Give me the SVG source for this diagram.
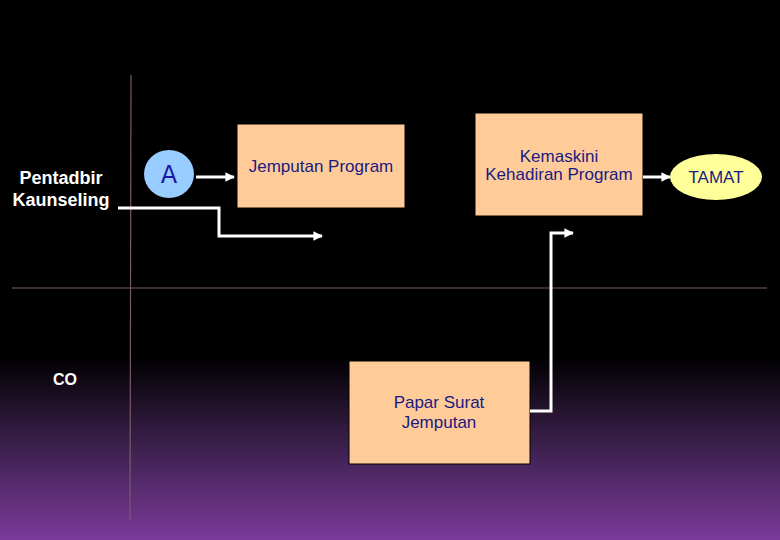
<svg xmlns="http://www.w3.org/2000/svg" width="780" height="540" viewBox="0 0 780 540">
<defs>
<linearGradient id="bg" x1="0" y1="0" x2="0" y2="1">
<stop offset="0" stop-color="#000000"/>
<stop offset="0.66" stop-color="#000000"/>
<stop offset="0.82" stop-color="#3a1f4a"/>
<stop offset="1" stop-color="#7a3a9a"/>
</linearGradient>
<marker id="arr" viewBox="0 0 10 10" refX="9" refY="5" markerWidth="3.2" markerHeight="3.2" orient="auto" markerUnits="strokeWidth">
<path d="M0,0 L10,5 L0,10 z" fill="#ffffff"/>
</marker>
<style>
.box{fill:#ffcc99;stroke:#000000;stroke-width:1}
.t{font-family:"Liberation Sans",Arial,sans-serif;font-size:17px;fill:#1a1a80;text-anchor:middle}
.w{font-family:"Liberation Sans",Arial,sans-serif;font-size:18px;font-weight:bold;fill:#ffffff;text-anchor:middle}
.lane{stroke:#7a5a6a;stroke-width:1.2;fill:none}
.c{stroke:#ffffff;stroke-width:3;fill:none}
</style>
</defs>
<rect width="780" height="540" fill="url(#bg)"/>
<g id="lanes">
<line class="lane" x1="131" y1="75" x2="130" y2="520"/>
<line class="lane" x1="12" y1="288" x2="767" y2="288"/>
</g>
<g id="lane-pentadbir"><text class="w" x="61" y="184">Pentadbir</text><text class="w" x="61" y="206">Kaunseling</text></g>
<g id="lane-co"><text class="w" x="65" y="385" style="font-size:16px">CO</text></g>
<g id="node-a">
<ellipse cx="169" cy="174" rx="25" ry="24" fill="#99ccff"/>
<text x="169" y="183" font-family="DejaVu Sans,sans-serif" font-size="24" fill="#1a1aa0" text-anchor="middle">A</text>
</g>
<g id="node-jemputan">
<rect class="box" x="237" y="124" width="168" height="84"/>
<text class="t" x="321" y="172">Jemputan Program</text>
</g>
<g id="node-kemaskini">
<rect class="box" x="475" y="113" width="168" height="103"/>
<text class="t" x="559" y="162">Kemaskini</text>
<text class="t" x="559" y="180">Kehadiran Program</text>
</g>
<g id="node-tamat">
<ellipse cx="716" cy="177" rx="46" ry="23" fill="#ffff99"/>
<text class="t" x="716" y="183">TAMAT</text>
</g>
<g id="node-papar">
<rect class="box" x="349" y="361" width="181" height="103"/>
<text class="t" x="439" y="408">Papar Surat</text>
<text class="t" x="439" y="428">Jemputan</text>
</g>
<g id="connectors">
<path class="c" d="M196,177 H234" marker-end="url(#arr)"/>
<path class="c" d="M643,177 H670" marker-end="url(#arr)"/>
<path class="c" d="M118,208 H219 V236 H322" marker-end="url(#arr)"/>
<path class="c" d="M530,411 H551 V233 H573" marker-end="url(#arr)"/>
</g>
</svg>
